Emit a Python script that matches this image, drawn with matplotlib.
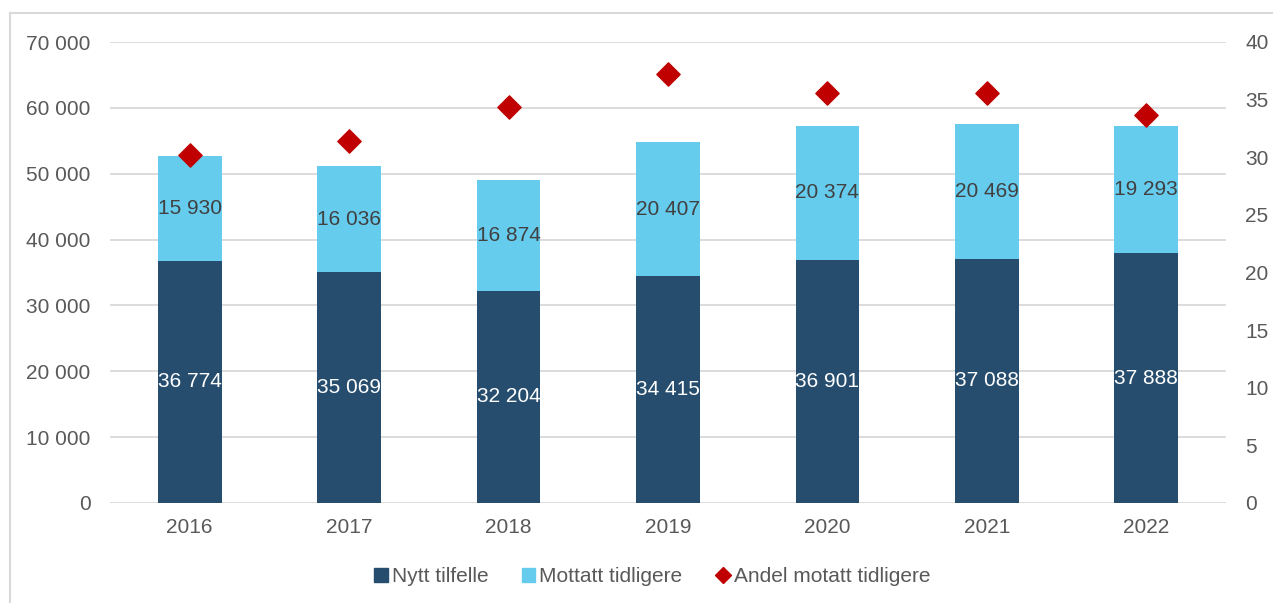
import matplotlib
matplotlib.use("Agg")
from matplotlib import pyplot as plt
from matplotlib.lines import Line2D
from matplotlib.patches import Patch
import numpy as np

years = ["2016", "2017", "2018", "2019", "2020", "2021", "2022"]
nytt = [36774, 35069, 32204, 34415, 36901, 37088, 37888]
mottatt = [15930, 16036, 16874, 20407, 20374, 20469, 19293]
andel = [30.2, 31.4, 34.4, 37.2, 35.6, 35.6, 33.7]

DARK = "#264d6e"
LIGHT = "#66ccee"
RED = "#c00000"
TEXT = "#595959"
GRID = "#d9d9d9"

plt.rcParams["font.family"] = ["Liberation Sans", "DejaVu Sans"]


def fmt(v):
    return f"{int(v):,}".replace(",", " ")


fig = plt.figure(figsize=(12.73, 6.03), dpi=100)
ax = fig.add_axes([110 / 1273, 1 - 503 / 603, 1116 / 1273, 461 / 603])
x = np.arange(len(years))

ax.bar(x, nytt, width=0.4, color=DARK, zorder=2)
ax.bar(x, mottatt, width=0.4, bottom=nytt, color=LIGHT, zorder=2)

for i in range(len(years)):
    ax.text(x[i], nytt[i] / 2, fmt(nytt[i]), ha="center", va="center",
            color="white", fontsize=15, zorder=3)
    ax.text(x[i], nytt[i] + mottatt[i] / 2, fmt(mottatt[i]), ha="center",
            va="center", color="#404040", fontsize=15, zorder=3)

ax.set_xlim(-0.5, len(years) - 0.5)
ax.set_ylim(0, 70000)
ax.set_yticks(range(0, 70001, 10000))
ax.set_yticklabels([fmt(v) for v in range(0, 70001, 10000)])
ax.set_xticks(x)
ax.set_xticklabels(years)
ax.yaxis.grid(True, color=GRID, linewidth=1.3, zorder=0)
ax.set_axisbelow(True)
for s in ax.spines.values():
    s.set_visible(False)
ax.tick_params(length=0, labelsize=15, colors=TEXT)
ax.tick_params(axis="y", pad=14)
ax.tick_params(axis="x", pad=11)

ax2 = ax.twinx()
ax2.scatter(x, andel, marker="D", s=140, color=RED, zorder=4)
ax2.set_ylim(0, 40)
ax2.set_yticks(range(0, 41, 5))
for s in ax2.spines.values():
    s.set_visible(False)
ax2.tick_params(length=0, labelsize=15, colors=TEXT, pad=14)

handles = [
    Patch(color=DARK, label="Nytt tilfelle"),
    Patch(color=LIGHT, label="Mottatt tidligere"),
    Line2D([], [], marker="D", color=RED, linestyle="none", markersize=8,
           label="Andel motatt tidligere"),
]
leg = fig.legend(handles=handles, loc="center", bbox_to_anchor=(652 / 1273, 1 - 577 / 603),
                 ncol=3, frameon=False, fontsize=15, handlelength=0.65,
                 handleheight=0.65, handletextpad=0.2, columnspacing=1.6)
for t in leg.get_texts():
    t.set_color(TEXT)

# thin frame around the chart area
fig.add_artist(Line2D([10 / 1273, 10 / 1273], [0, 1 - 13 / 603], color=GRID,
                      linewidth=1.5, transform=fig.transFigure))
fig.add_artist(Line2D([10 / 1273, 1], [1 - 13 / 603, 1 - 13 / 603], color=GRID,
                      linewidth=1.5, transform=fig.transFigure))

fig.savefig("out.png", dpi=100)
